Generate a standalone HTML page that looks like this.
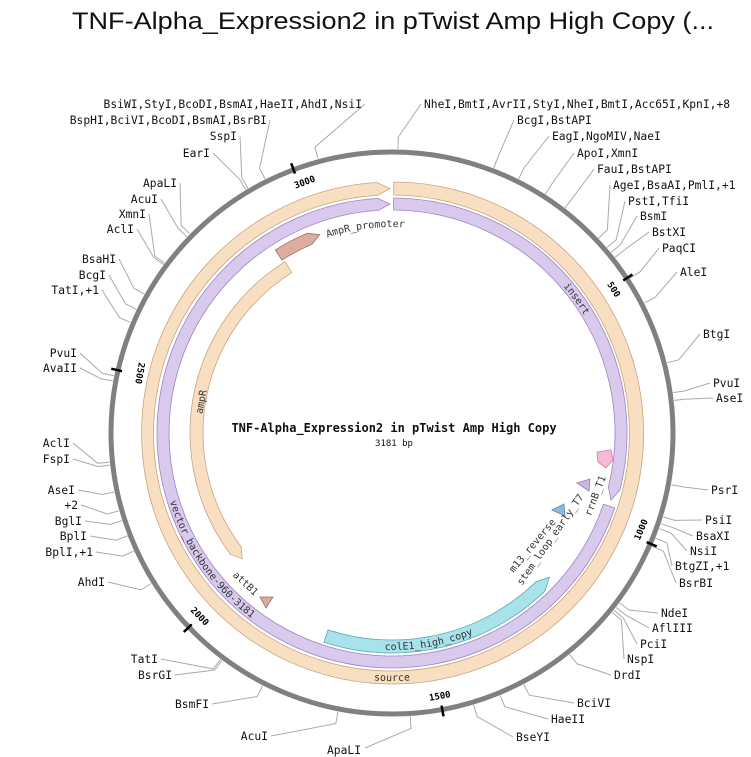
<!DOCTYPE html>
<html><head><meta charset="utf-8"><style>
html,body{margin:0;padding:0;background:#fff;width:751px;height:757px;overflow:hidden}
svg{display:block}
.m{font-family:"DejaVu Sans Mono","Liberation Mono",monospace}
.re{font-size:11.3px;fill:#111}
.ft{font-size:10px;fill:#333}
.tk{font-size:9px;font-weight:bold;fill:#000}
</style></head><body>
<svg id="s" width="751" height="757" viewBox="0 0 751 757" xmlns="http://www.w3.org/2000/svg">
<text x="72" y="29" font-family="Liberation Sans, sans-serif" font-size="24" textLength="642" lengthAdjust="spacingAndGlyphs" fill="#111">TNF-Alpha_Expression2 in pTwist Amp High Copy (...</text>
<g id="lines" stroke="#aaa" stroke-width="1" fill="none"></g>
<circle cx="392" cy="433" r="281" fill="none" stroke="#808080" stroke-width="5"/>
<g id="feat"></g>
<g stroke="#000" stroke-width="2.5">
<line x1="392" y1="145" x2="392" y2="156" transform="rotate(56.6 392 433)"/>
<line x1="392" y1="145" x2="392" y2="156" transform="rotate(113.2 392 433)"/>
<line x1="392" y1="145" x2="392" y2="156" transform="rotate(169.7 392 433)"/>
<line x1="392" y1="145" x2="392" y2="156" transform="rotate(226.3 392 433)"/>
<line x1="392" y1="145" x2="392" y2="156" transform="rotate(282.9 392 433)"/>
<line x1="392" y1="145" x2="392" y2="156" transform="rotate(339.5 392 433)"/>
</g>
<g class="m tk" text-anchor="middle" dominant-baseline="central">
<text transform="translate(305,183) rotate(-20)">3000</text>
<text transform="translate(613,290) rotate(57)">500</text>
<text transform="translate(642,530) rotate(-67)">1000</text>
<text transform="translate(440,697) rotate(-10)">1500</text>
<text transform="translate(199,617) rotate(46)">2000</text>
<text transform="translate(139,373) rotate(100)">2500</text>
</g>
<defs>
<path id="pSource" d="M307.2,666.1 A248,248 0 0,0 476.8,666.1"/>
<path id="pCol" d="M317.8,636.9 A217,217 0 0,0 531.5,599.2"/>
<path id="pVec" d="M160.4,453.3 A232.5,232.5 0 0,0 293.7,643.7"/>
<path id="pIns" d="M483.7,227.0 A225.5,225.5 0 0,1 616.3,409.4"/>
<path id="pAmpP" d="M266.9,269.4 A206,206 0 0,1 471.2,242.8"/>
</defs>
<g class="m ft" text-anchor="middle">
<text><textPath href="#pSource" startOffset="50%">source</textPath></text>
<text><textPath href="#pCol" startOffset="50%">colE1_high_copy</textPath></text>
<text><textPath href="#pVec" startOffset="50%">vector_backbone-960-3181</textPath></text>
<text><textPath href="#pIns" startOffset="50%">insert</textPath></text>
<text><textPath href="#pAmpP" startOffset="50%">AmpR_promoter</textPath></text>
</g>
<g class="m ft" text-anchor="middle" dominant-baseline="central">
<text transform="translate(202,402) rotate(-80)">ampR</text>
<text transform="translate(245,584) rotate(43)">attB1</text>
<text transform="translate(533,546) rotate(-50)">m13_reverse</text>
<text transform="translate(551,540) rotate(-55)">stem_loop_early_T7</text>
<text transform="translate(596,496) rotate(-69)">rrnB_T1</text>
</g>
<polygon points="260,597 273,597 266,608" fill="#dba89b" stroke="#a0706a" stroke-width="0.8"/>
<polygon points="552,510 564,504 565,516" fill="#8fb8dc" stroke="#5a88b0" stroke-width="0.8"/>
<polygon points="577,483 590,479 589,491" fill="#c7b6e4" stroke="#9080b8" stroke-width="0.8"/>
<polygon points="597,452 611,450 613,460 606,468 598,462" fill="#f8b8d8" stroke="#d080a8" stroke-width="0.8"/>
<g class="m" text-anchor="middle">
<text x="394" y="432" font-size="12" font-weight="bold" fill="#111">TNF-Alpha_Expression2 in pTwist Amp High Copy</text>
<text x="394" y="446" font-size="9" fill="#111">3181 bp</text>
</g>
<g class="m re">
<text x="424" y="108">NheI,BmtI,AvrII,StyI,NheI,BmtI,Acc65I,KpnI,+8</text>
<text x="517" y="124">BcgI,BstAPI</text>
<text x="552" y="140">EagI,NgoMIV,NaeI</text>
<text x="577" y="157">ApoI,XmnI</text>
<text x="597" y="173">FauI,BstAPI</text>
<text x="613" y="189">AgeI,BsaAI,PmlI,+1</text>
<text x="628" y="205">PstI,TfiI</text>
<text x="640" y="220">BsmI</text>
<text x="652" y="236">BstXI</text>
<text x="662" y="252">PaqCI</text>
<text x="680" y="276">AleI</text>
<text x="703" y="338">BtgI</text>
<text x="713" y="387">PvuI</text>
<text x="716" y="402">AseI</text>
<text x="711" y="494">PsrI</text>
<text x="705" y="524">PsiI</text>
<text x="696" y="540">BsaXI</text>
<text x="690" y="555">NsiI</text>
<text x="675" y="570">BtgZI,+1</text>
<text x="679" y="587">BsrBI</text>
<text x="661" y="617">NdeI</text>
<text x="652" y="632">AflIII</text>
<text x="640" y="648">PciI</text>
<text x="627" y="663">NspI</text>
<text x="614" y="679">DrdI</text>
<text x="577" y="707">BciVI</text>
<text x="551" y="723">HaeII</text>
<text x="516" y="741">BseYI</text>
<text x="327" y="754">ApaLI</text>
</g>
<g class="m re" text-anchor="end">
<text x="362" y="108">BsiWI,StyI,BcoDI,BsmAI,HaeII,AhdI,NsiI</text>
<text x="267" y="124">BspHI,BciVI,BcoDI,BsmAI,BsrBI</text>
<text x="237" y="140">SspI</text>
<text x="210" y="157">EarI</text>
<text x="177" y="187">ApaLI</text>
<text x="158" y="203">AcuI</text>
<text x="146" y="218">XmnI</text>
<text x="134" y="233">AclI</text>
<text x="116" y="263">BsaHI</text>
<text x="106" y="279">BcgI</text>
<text x="99" y="294">TatI,+1</text>
<text x="77" y="357">PvuI</text>
<text x="77" y="372">AvaII</text>
<text x="70" y="447">AclI</text>
<text x="70" y="463">FspI</text>
<text x="75" y="494">AseI</text>
<text x="78" y="509">+2</text>
<text x="82" y="525">BglI</text>
<text x="87" y="540">BplI</text>
<text x="93" y="556">BplI,+1</text>
<text x="105" y="586">AhdI</text>
<text x="158" y="663">TatI</text>
<text x="172" y="679">BsrGI</text>
<text x="209" y="708">BsmFI</text>
<text x="268" y="740">AcuI</text>
</g>
</svg>
<script>
(function(){
var NS="http://www.w3.org/2000/svg",C=[392,433];
function P(r,a){a*=Math.PI/180;return [C[0]+r*Math.sin(a),C[1]-r*Math.cos(a)];}
function f(p){return p[0].toFixed(1)+","+p[1].toFixed(1);}
function arrow(ri,ro,a1,a2,tipS,tipE){
 var m=(ri+ro)/2,lg=(a2-a1)>180?1:0,d="M"+f(P(ro,a1))+"A"+ro+","+ro+" 0 "+lg+" 1 "+f(P(ro,a2));
 if(tipE)d+="L"+f(P(m,a2+tipE));
 d+="L"+f(P(ri,a2))+"A"+ri+","+ri+" 0 "+lg+" 0 "+f(P(ri,a1));
 if(tipS)d+="L"+f(P(m,a1-tipS));
 return d+"Z";}
var g=document.getElementById("feat");
function add(d,fill,st){var p=document.createElementNS(NS,"path");p.setAttribute("d",d);p.setAttribute("fill",fill);p.setAttribute("stroke",st);p.setAttribute("stroke-width","0.8");g.appendChild(p);}
add(arrow(238,251,0.4,356.5,0,3),"#f9dfc2","#c9a47e");
add(arrow(223,235,0.4,104,0,3),"#d9c9ec","#9b85c0");
add(arrow(223,235,108.6,356.5,0,3),"#d9c9ec","#9b85c0");
add(arrow(189,202,233,328,3,0),"#f9dfc2","#c9a47e");
add(arrow(205,217,327.5,337,0,3),"#ddaea0","#a0706a");
add(arrow(207,220,136,198,3.5,0),"#a8e2ea","#5aaab8");
var L=document.getElementById("lines");
var R=[[424,108,398,150],[517,124,493,170],[552,140,520,176],[577,157,546,193],[597,173,565,208],[613,189,602,235],[628,205,610,245],[640,220,614,250],[652,236,618,255],[662,252,632,277],[680,276,646,302],[703,338,670,362],[713,387,677,392],[716,402,678,400],[711,494,673,485],[705,524,667,518],[696,540,665,525],[690,555,663,530],[675,570,660,540],[679,587,656,548],[661,617,621,604],[652,632,618,609],[640,648,616,612],[627,663,614,614],[614,679,570,655],[577,707,524,685],[551,723,500,695],[516,741,473,703]];
var Lf=[[362,108,317,155],[267,124,263,175],[237,140,246,185],[210,157,246,190],[177,187,188,232],[158,203,185,235],[146,218,163,262],[134,233,164,265],[116,263,146,295],[106,279,138,310],[99,294,132,323],[77,357,115,376],[77,372,113,381],[70,447,110,462],[70,463,111,465],[75,494,114,492],[78,509,118,511],[82,525,121,521],[87,540,127,536],[93,556,134,551],[105,586,152,583],[158,663,220,660],[172,679,220,663],[209,708,262,687],[268,740,338,712]];
function line(lx,ly,cx,cy){var a=Math.atan2(cx-C[0],C[1]-cy)*180/Math.PI;var p1=P(284,a),p2=P(296,a);
 var pl=document.createElementNS(NS,"polyline");pl.setAttribute("points",lx+","+ly+" "+f(p2)+" "+f(p1));L.appendChild(pl);}
R.forEach(function(r){line(r[0]-3,r[1]-4,r[2],r[3]);});
Lf.forEach(function(r){line(r[0]+3,r[1]-4,r[2],r[3]);});
line(365,748,410,713);
})();
</script>
</body></html>
